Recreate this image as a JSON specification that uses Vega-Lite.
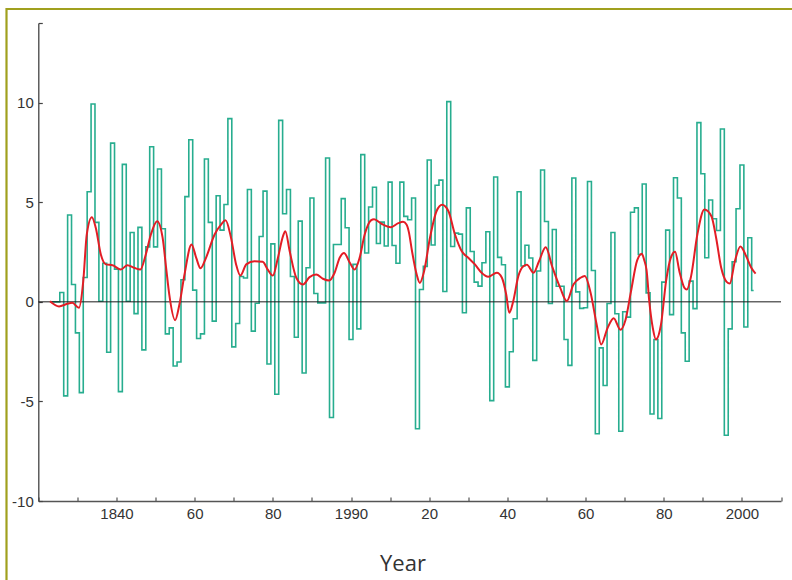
{
  "$schema": "https://vega.github.io/schema/vega-lite/v6.json",
  "width": 790.5,
  "height": 576,
  "autosize": {"type": "none"},
  "padding": {"left": 6.5, "top": 9, "right": -5, "bottom": -5},
  "background": "white",
  "config": {
    "view": {"stroke": "#a0a01e", "strokeWidth": 2.2},
    "font": "Liberation Sans"
  },
  "datasets": {
    "annual": [
      {"year": 1823, "value": 0}, {"year": 1824, "value": 0}, {"year": 1825, "value": 0},
      {"year": 1826, "value": 0.47}, {"year": 1827, "value": -4.72}, {"year": 1828, "value": 4.36},
      {"year": 1829, "value": 0.87}, {"year": 1830, "value": -1.56}, {"year": 1831, "value": -4.56},
      {"year": 1832, "value": 1.22}, {"year": 1833, "value": 5.53}, {"year": 1834, "value": 9.93},
      {"year": 1835, "value": 3.99}, {"year": 1836, "value": 0.03}, {"year": 1837, "value": 1.94},
      {"year": 1838, "value": -2.53}, {"year": 1839, "value": 7.97}, {"year": 1840, "value": 1.64},
      {"year": 1841, "value": -4.51}, {"year": 1842, "value": 6.9}, {"year": 1843, "value": 0.03},
      {"year": 1844, "value": 3.48}, {"year": 1845, "value": -0.59}, {"year": 1846, "value": 3.74},
      {"year": 1847, "value": -2.41}, {"year": 1848, "value": 2.76}, {"year": 1849, "value": 7.79},
      {"year": 1850, "value": 2.76}, {"year": 1851, "value": 6.67}, {"year": 1852, "value": 3.67},
      {"year": 1853, "value": -1.61}, {"year": 1854, "value": -1.31}, {"year": 1855, "value": -3.22},
      {"year": 1856, "value": -3.02}, {"year": 1857, "value": 1.11}, {"year": 1858, "value": 5.28},
      {"year": 1859, "value": 8.14}, {"year": 1860, "value": 0.59}, {"year": 1861, "value": -1.84},
      {"year": 1862, "value": -1.61}, {"year": 1863, "value": 7.17}, {"year": 1864, "value": 3.99},
      {"year": 1865, "value": -0.97}, {"year": 1866, "value": 5.33}, {"year": 1867, "value": 3.6},
      {"year": 1868, "value": 4.89}, {"year": 1869, "value": 9.2}, {"year": 1870, "value": -2.26},
      {"year": 1871, "value": -1.09}, {"year": 1872, "value": 1.27}, {"year": 1873, "value": 1.2},
      {"year": 1874, "value": 5.64}, {"year": 1875, "value": -1.47}, {"year": 1876, "value": -0.07},
      {"year": 1877, "value": 3.28}, {"year": 1878, "value": 5.56}, {"year": 1879, "value": -3.12},
      {"year": 1880, "value": 2.91}, {"year": 1881, "value": -4.64}, {"year": 1882, "value": 9.11},
      {"year": 1883, "value": 4.42}, {"year": 1884, "value": 5.64}, {"year": 1885, "value": 1.27},
      {"year": 1886, "value": -1.78}, {"year": 1887, "value": 4.05}, {"year": 1888, "value": -3.57},
      {"year": 1889, "value": 1.71}, {"year": 1890, "value": 5.21}, {"year": 1891, "value": 0.42},
      {"year": 1892, "value": -0.05}, {"year": 1893, "value": -0.05}, {"year": 1894, "value": 7.22},
      {"year": 1895, "value": -5.81}, {"year": 1896, "value": 2.88}, {"year": 1897, "value": 2.88},
      {"year": 1898, "value": 5.18}, {"year": 1899, "value": 3.72}, {"year": 1900, "value": -1.89},
      {"year": 1901, "value": 1.88}, {"year": 1902, "value": -1.36}, {"year": 1903, "value": 7.39},
      {"year": 1904, "value": 2.45}, {"year": 1905, "value": 4.76}, {"year": 1906, "value": 5.75},
      {"year": 1907, "value": 2.93}, {"year": 1908, "value": 4.0}, {"year": 1909, "value": 2.8},
      {"year": 1910, "value": 6.01}, {"year": 1911, "value": 2.83}, {"year": 1912, "value": 1.94},
      {"year": 1913, "value": 6.01}, {"year": 1914, "value": 4.29}, {"year": 1915, "value": 4.12},
      {"year": 1916, "value": 5.21}, {"year": 1917, "value": -6.37}, {"year": 1918, "value": 0.62},
      {"year": 1919, "value": 1.78}, {"year": 1920, "value": 7.12}, {"year": 1921, "value": 2.85},
      {"year": 1922, "value": 5.85}, {"year": 1923, "value": 6.11}, {"year": 1924, "value": 0.52},
      {"year": 1925, "value": 10.05}, {"year": 1926, "value": 2.78}, {"year": 1927, "value": 3.45},
      {"year": 1928, "value": 3.4}, {"year": 1929, "value": -0.55}, {"year": 1930, "value": 4.72},
      {"year": 1931, "value": 2.53}, {"year": 1932, "value": 0.99}, {"year": 1933, "value": 0.79},
      {"year": 1934, "value": 1.96}, {"year": 1935, "value": 3.52}, {"year": 1936, "value": -4.96},
      {"year": 1937, "value": 6.27}, {"year": 1938, "value": 2.23}, {"year": 1939, "value": 1.86},
      {"year": 1940, "value": -4.27}, {"year": 1941, "value": -2.51}, {"year": 1942, "value": -0.85},
      {"year": 1943, "value": 5.53}, {"year": 1944, "value": 1.8}, {"year": 1945, "value": 2.84},
      {"year": 1946, "value": 2.2}, {"year": 1947, "value": -2.94}, {"year": 1948, "value": 1.55},
      {"year": 1949, "value": 6.62}, {"year": 1950, "value": 4.03}, {"year": 1951, "value": -0.08},
      {"year": 1952, "value": 3.63}, {"year": 1953, "value": 0.78}, {"year": 1954, "value": 0.78},
      {"year": 1955, "value": -1.89}, {"year": 1956, "value": -3.19}, {"year": 1957, "value": 6.22},
      {"year": 1958, "value": 0.5}, {"year": 1959, "value": -0.33}, {"year": 1960, "value": -0.3},
      {"year": 1961, "value": 6.04}, {"year": 1962, "value": 1.57}, {"year": 1963, "value": -6.62},
      {"year": 1964, "value": -2.31}, {"year": 1965, "value": -4.2}, {"year": 1966, "value": -0.08},
      {"year": 1967, "value": 3.48}, {"year": 1968, "value": -0.6}, {"year": 1969, "value": -6.5},
      {"year": 1970, "value": -0.5}, {"year": 1971, "value": -0.77}, {"year": 1972, "value": 4.5},
      {"year": 1973, "value": 4.72}, {"year": 1974, "value": 2.38}, {"year": 1975, "value": 5.92},
      {"year": 1976, "value": 0.45}, {"year": 1977, "value": -5.63}, {"year": 1978, "value": -1.89},
      {"year": 1979, "value": -5.86}, {"year": 1980, "value": 0.99}, {"year": 1981, "value": 3.6},
      {"year": 1982, "value": -0.64}, {"year": 1983, "value": 6.23}, {"year": 1984, "value": 5.21},
      {"year": 1985, "value": -1.56}, {"year": 1986, "value": -2.98}, {"year": 1987, "value": 1.04},
      {"year": 1988, "value": -0.34}, {"year": 1989, "value": 9.0}, {"year": 1990, "value": 6.43},
      {"year": 1991, "value": 2.21}, {"year": 1992, "value": 5.11}, {"year": 1993, "value": 4.17},
      {"year": 1994, "value": 3.58}, {"year": 1995, "value": 8.68}, {"year": 1996, "value": -6.7},
      {"year": 1997, "value": -1.36}, {"year": 1998, "value": 2.01}, {"year": 1999, "value": 4.67},
      {"year": 2000, "value": 6.87}, {"year": 2001, "value": -1.26}, {"year": 2002, "value": 3.22},
      {"year": 2003, "value": 0.57}
    ],
    "smooth": [
      {"t": 1823.0, "s": 0.03}, {"t": 1825.3, "s": -0.23}, {"t": 1827.4, "s": -0.1},
      {"t": 1828.7, "s": -0.05}, {"t": 1830.4, "s": -0.3}, {"t": 1831.5, "s": 1.04},
      {"t": 1832.4, "s": 3.38}, {"t": 1833.7, "s": 4.25}, {"t": 1834.7, "s": 3.72},
      {"t": 1836.0, "s": 2.38}, {"t": 1837.3, "s": 1.88}, {"t": 1839.0, "s": 1.84},
      {"t": 1841.1, "s": 1.62}, {"t": 1842.8, "s": 1.84}, {"t": 1844.5, "s": 1.71},
      {"t": 1846.1, "s": 1.62}, {"t": 1847.5, "s": 2.38}, {"t": 1848.8, "s": 3.38},
      {"t": 1850.4, "s": 4.05}, {"t": 1851.8, "s": 3.22}, {"t": 1852.7, "s": 1.71},
      {"t": 1853.5, "s": 0.37}, {"t": 1855.0, "s": -0.92}, {"t": 1856.1, "s": -0.13},
      {"t": 1857.4, "s": 1.37}, {"t": 1859.2, "s": 2.88}, {"t": 1860.4, "s": 2.21},
      {"t": 1861.5, "s": 1.68}, {"t": 1862.9, "s": 2.21}, {"t": 1865.1, "s": 3.38},
      {"t": 1866.8, "s": 3.89}, {"t": 1867.9, "s": 4.09}, {"t": 1869.3, "s": 3.22},
      {"t": 1870.6, "s": 1.88}, {"t": 1871.7, "s": 1.32}, {"t": 1873.2, "s": 1.88},
      {"t": 1875.3, "s": 2.04}, {"t": 1877.4, "s": 2.01}, {"t": 1878.7, "s": 1.62},
      {"t": 1880.0, "s": 1.32}, {"t": 1881.3, "s": 2.21}, {"t": 1882.6, "s": 3.3},
      {"t": 1883.2, "s": 3.55}, {"t": 1884.3, "s": 2.55}, {"t": 1886.0, "s": 1.21},
      {"t": 1887.7, "s": 0.87}, {"t": 1889.4, "s": 1.24}, {"t": 1891.1, "s": 1.37},
      {"t": 1892.8, "s": 1.16}, {"t": 1894.4, "s": 1.07}, {"t": 1895.8, "s": 1.46},
      {"t": 1897.1, "s": 2.21}, {"t": 1898.2, "s": 2.45}, {"t": 1899.7, "s": 1.96},
      {"t": 1900.9, "s": 1.62}, {"t": 1902.2, "s": 2.21}, {"t": 1903.5, "s": 3.38},
      {"t": 1905.1, "s": 4.09}, {"t": 1905.9, "s": 4.15}, {"t": 1907.8, "s": 3.92},
      {"t": 1910.2, "s": 3.75}, {"t": 1912.1, "s": 3.95}, {"t": 1913.3, "s": 4.02},
      {"t": 1914.2, "s": 3.88}, {"t": 1914.8, "s": 3.5}, {"t": 1915.6, "s": 2.55},
      {"t": 1916.8, "s": 1.37}, {"t": 1917.6, "s": 0.95}, {"t": 1918.7, "s": 1.54},
      {"t": 1920.2, "s": 3.22}, {"t": 1921.9, "s": 4.56}, {"t": 1923.3, "s": 4.87},
      {"t": 1924.9, "s": 4.56}, {"t": 1926.6, "s": 3.38}, {"t": 1928.3, "s": 2.55},
      {"t": 1930.0, "s": 2.21}, {"t": 1931.7, "s": 1.88}, {"t": 1933.4, "s": 1.46},
      {"t": 1935.1, "s": 1.26}, {"t": 1937.3, "s": 1.46}, {"t": 1938.6, "s": 1.21},
      {"t": 1939.7, "s": 0.37}, {"t": 1940.5, "s": -0.55}, {"t": 1941.5, "s": 0.03},
      {"t": 1942.8, "s": 1.29}, {"t": 1944.1, "s": 1.79}, {"t": 1945.0, "s": 1.86},
      {"t": 1946.7, "s": 1.46}, {"t": 1948.1, "s": 2.04}, {"t": 1949.8, "s": 2.74},
      {"t": 1951.5, "s": 1.75}, {"t": 1953.5, "s": 0.71}, {"t": 1955.2, "s": 0.04},
      {"t": 1956.9, "s": 0.87}, {"t": 1958.7, "s": 1.21}, {"t": 1959.8, "s": 1.3},
      {"t": 1961.3, "s": 0.45}, {"t": 1962.8, "s": -1.1}, {"t": 1964.0, "s": -2.14},
      {"t": 1965.6, "s": -1.33}, {"t": 1967.2, "s": -0.82}, {"t": 1968.9, "s": -1.4},
      {"t": 1970.2, "s": -0.92}, {"t": 1971.6, "s": 0.5}, {"t": 1973.2, "s": 2.08},
      {"t": 1974.4, "s": 2.42}, {"t": 1975.0, "s": 2.1}, {"t": 1975.6, "s": 1.6},
      {"t": 1976.3, "s": 0.03}, {"t": 1977.2, "s": -1.31}, {"t": 1978.0, "s": -1.89},
      {"t": 1979.3, "s": -1.14}, {"t": 1980.6, "s": 1.04}, {"t": 1981.8, "s": 2.21},
      {"t": 1982.9, "s": 2.51}, {"t": 1984.0, "s": 1.54}, {"t": 1985.3, "s": 0.7},
      {"t": 1985.9, "s": 0.62}, {"t": 1987.0, "s": 1.29}, {"t": 1988.6, "s": 3.38},
      {"t": 1990.4, "s": 4.64}, {"t": 1992.2, "s": 4.3}, {"t": 1993.4, "s": 3.22},
      {"t": 1994.7, "s": 1.71}, {"t": 1996.1, "s": 1.0}, {"t": 1996.9, "s": 0.92},
      {"t": 1998.2, "s": 2.04}, {"t": 1999.6, "s": 2.78}, {"t": 2001.1, "s": 2.29},
      {"t": 2002.4, "s": 1.71}, {"t": 2003.5, "s": 1.42}
    ],
    "baseline": [{"zero": 0, "from": 1820, "to": 2010}]
  },
  "layer": [
    {
      "data": {"name": "annual"},
      "mark": {"type": "line", "interpolate": "step", "color": "#27ad8f", "strokeWidth": 1.6},
      "encoding": {
        "x": {
          "field": "year",
          "type": "quantitative",
          "scale": {"domain": [1820, 2010], "range": [31.8, 774.5], "nice": false, "zero": false},
          "axis": {
            "values": [1820, 1830, 1840, 1850, 1860, 1870, 1880, 1890, 1900, 1910, 1920, 1930, 1940, 1950, 1960, 1970, 1980, 1990, 2000, 2010],
            "labelExpr": "datum.value == 1840 ? '1840' : datum.value == 1860 ? '60' : datum.value == 1880 ? '80' : datum.value == 1900 ? '1990' : datum.value == 1920 ? '20' : datum.value == 1940 ? '40' : datum.value == 1960 ? '60' : datum.value == 1980 ? '80' : datum.value == 2000 ? '2000' : ''",
            "offset": -84,
            "grid": false,
            "tickSize": -4,
            "tickColor": "#555",
            "tickWidth": 1.2,
            "domainColor": "#555",
            "domainWidth": 1.3,
            "labelFont": "Liberation Sans",
            "labelFontSize": 15,
            "labelColor": "#333",
            "labelPadding": 9,
            "labelOverlap": false,
            "labelFlush": false,
            "title": "Year",
            "titleFont": "Open Sans",
            "titleFontSize": 22,
            "titleFontWeight": "normal",
            "titleColor": "#333",
            "titleBaseline": "alphabetic",
            "titleAlign": "center",
            "titleX": 396,
            "titleY": 69
          }
        },
        "y": {
          "field": "value",
          "type": "quantitative",
          "scale": {"domain": [-10, 14], "range": [492, 14], "nice": false, "zero": false},
          "axis": {
            "values": [-10, -5, 0, 5, 10, 14],
            "labelExpr": "datum.value == 14 ? '' : '' + datum.value",
            "offset": -31.8,
            "grid": false,
            "tickSize": -4,
            "tickColor": "#444",
            "tickWidth": 1.2,
            "domainColor": "#444",
            "domainWidth": 1.3,
            "labelFont": "Liberation Sans",
            "labelFontSize": 15,
            "labelColor": "#333",
            "labelPadding": 9,
            "labelOverlap": false,
            "labelFlush": false,
            "title": null
          }
        }
      }
    },
    {
      "data": {"name": "baseline"},
      "mark": {"type": "rule", "color": "#1a1a1a", "strokeWidth": 1},
      "encoding": {
        "x": {"field": "from", "type": "quantitative"},
        "x2": {"field": "to"},
        "y": {"field": "zero", "type": "quantitative"}
      }
    },
    {
      "data": {"name": "smooth"},
      "mark": {"type": "line", "interpolate": "monotone", "color": "#e31d25", "strokeWidth": 2},
      "encoding": {
        "x": {"field": "t", "type": "quantitative"},
        "y": {"field": "s", "type": "quantitative"}
      }
    }
  ]
}
